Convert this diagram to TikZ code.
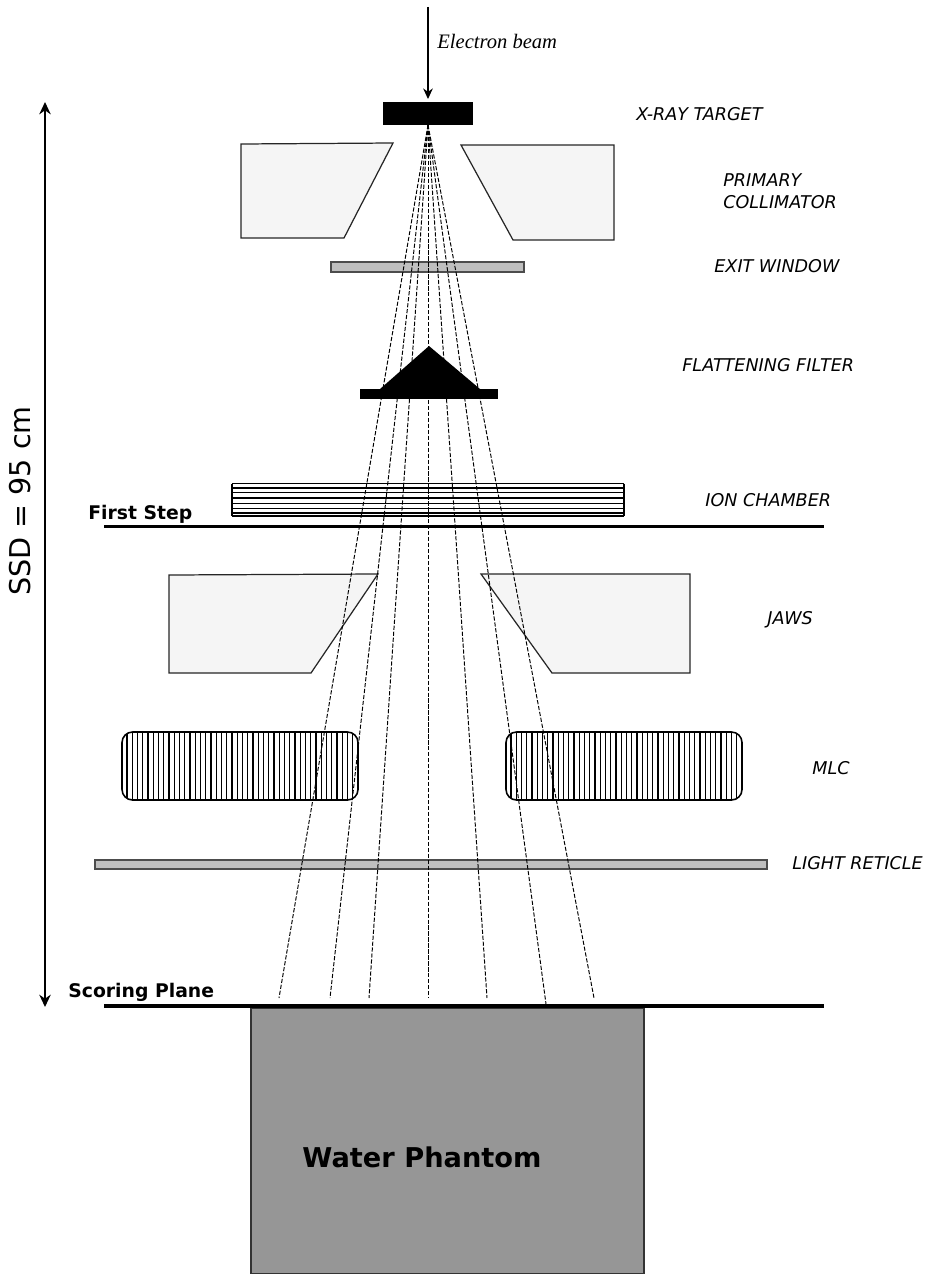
\documentclass[tikz,border=0pt]{standalone}
\usepackage{fontspec}
\setmainfont{DejaVu Sans}
\newfontfamily\beamfont{Liberation Serif}
\usepackage{xcolor}
\usetikzlibrary{calc,arrows.meta}

\definecolor{partgray}{gray}{0.96}
\definecolor{plategray}{gray}{0.75}
\definecolor{phantomgray}{gray}{0.59}
\tikzset{
	part/.style={draw=black!85,line width=0.7pt,fill=partgray},
	plate/.style={draw=black!70,line width=0.6pt,fill=plategray},
	ray/.style={line width=0.55pt,dash pattern=on 2.4pt off 1pt},
	tag/.style={anchor=west,font=\fontsize{10}{12.5}\selectfont\itshape,inner sep=0pt},
	steptag/.style={anchor=west,font=\fontsize{10.7}{12}\selectfont\bfseries,inner sep=0pt},
}

\begin{document}
\begin{tikzpicture}[x=0.02cm,y=-0.02cm]
			\useasboundingbox (0,0) rectangle (933,1274);
			
			% beam and target
			\coordinate (BeamTop) at (428,7);
			\coordinate (BeamEnd) at (428,99);
			\coordinate (Src) at (428,125);
			\draw[line width=0.6pt,-{Stealth[length=6pt,width=5.5pt]}] (BeamTop)--(BeamEnd);
			\fill (383,102) rectangle (473,125);
			\node[anchor=west,inner sep=0pt,font=\beamfont\itshape\fontsize{11.7}{13}\selectfont] (beamlab) at (437,41) {Electron beam};
			
			% primary collimator
			\draw[part] (241,144)--(393,143)--(344,238)--(241,238)--cycle;
			\draw[part] (461,145)--(614,145)--(614,240)--(513,240)--cycle;
			
			% exit window
			\draw[plate] (331,262) rectangle (524,272);
			
			% jaws
			\draw[part] (169,575)--(378,574)--(311,673)--(169,673)--cycle;
			\draw[part] (481,574)--(690,574)--(690,673)--(552,673)--cycle;
			
			% ion chamber
			\foreach \y in {483.5,488,492.7,498,503.5,508.7,513,516}
			\draw[line width=0.6pt] (232,\y)--(624,\y);
			\draw[line width=0.6pt] (232,483.5)--(232,516);
			\draw[line width=0.6pt] (624,483.5)--(624,516);
			
			% MLC
			\foreach \s in {0,384}{
				\begin{scope}[shift={(\s,0)}]
					\begin{scope}
						\clip[rounded corners=6pt] (122,732) rectangle (358,800);
						\foreach \x in {127,132.25,...,356}
						\draw[line width=0.7pt] (\x,732)--(\x,800);
					\end{scope}
					\draw[line width=0.9pt,rounded corners=6pt] (122,732) rectangle (358,800);
				\end{scope}
			}
			
			% light reticle
			\draw[plate] (95,860) rectangle (767,869);
			
			% water phantom
			\draw[draw=black!80,line width=0.8pt,fill=phantomgray] (251,1008) rectangle (644,1274);
			\node[font=\fontsize{15.5}{18}\selectfont\bfseries,inner sep=0pt] (phantom) at (422,1157) {Water Phantom};
			
			% rays
			\foreach \n/\x/\y in {a/279/998,b/330/998,c/369/998,d/428/998,e/487/998,f/546/1004,g/594/998}{
				\coordinate (Ray\n) at (\x,\y);
				\draw[ray] (Src)--(Ray\n);
			}
			
			% flattening filter
			\fill (360,389) rectangle (498,399);
			\fill (380,389)--(429,346)--(480,389)--cycle;
			
			% planes
			\coordinate (StepL) at (104,526.5);
			\coordinate (StepR) at (824,526.5);
			\coordinate (ScoreL) at (104,1006);
			\coordinate (ScoreR) at (824,1006);
			\draw[line width=1.9pt] (StepL)--(StepR);
			\draw[line width=2.1pt] (ScoreL)--(ScoreR);
			\node[steptag] (firststep) at (88,514) {First Step};
			\node[steptag] (scoring) at (68,992) {Scoring Plane};
			
			% SSD
			\coordinate (SsdTop) at (45,102);
			\coordinate (SsdEnd) at (45,1007);
			\draw[line width=1.1pt,{Stealth[length=7pt,width=6.5pt]}-{Stealth[length=7pt,width=6.5pt]}] (SsdTop)--(SsdEnd);
			\node[rotate=90,inner sep=0pt,font=\fontsize{16.3}{19}\selectfont] (ssd) at (20,501) {SSD = 95 cm};
			
			% labels
			\node[tag] (targetlab) at (636,114) {X-RAY TARGET};
			\node[tag,align=left] (collab) at (723,191) {PRIMARY\\COLLIMATOR};
			\node[tag] (exitlab) at (714,266) {EXIT WINDOW};
			\node[tag] (filterlab) at (682,365) {FLATTENING FILTER};
			\node[tag] (ionlab) at (705,500) {ION CHAMBER};
			\node[tag] (jawslab) at (767,620) {JAWS};
			\node[tag] (mlclab) at (812,768) {MLC};
			\node[tag] (reticlelab) at (792,863) {LIGHT RETICLE};
			
		\end{tikzpicture}
\end{document}
